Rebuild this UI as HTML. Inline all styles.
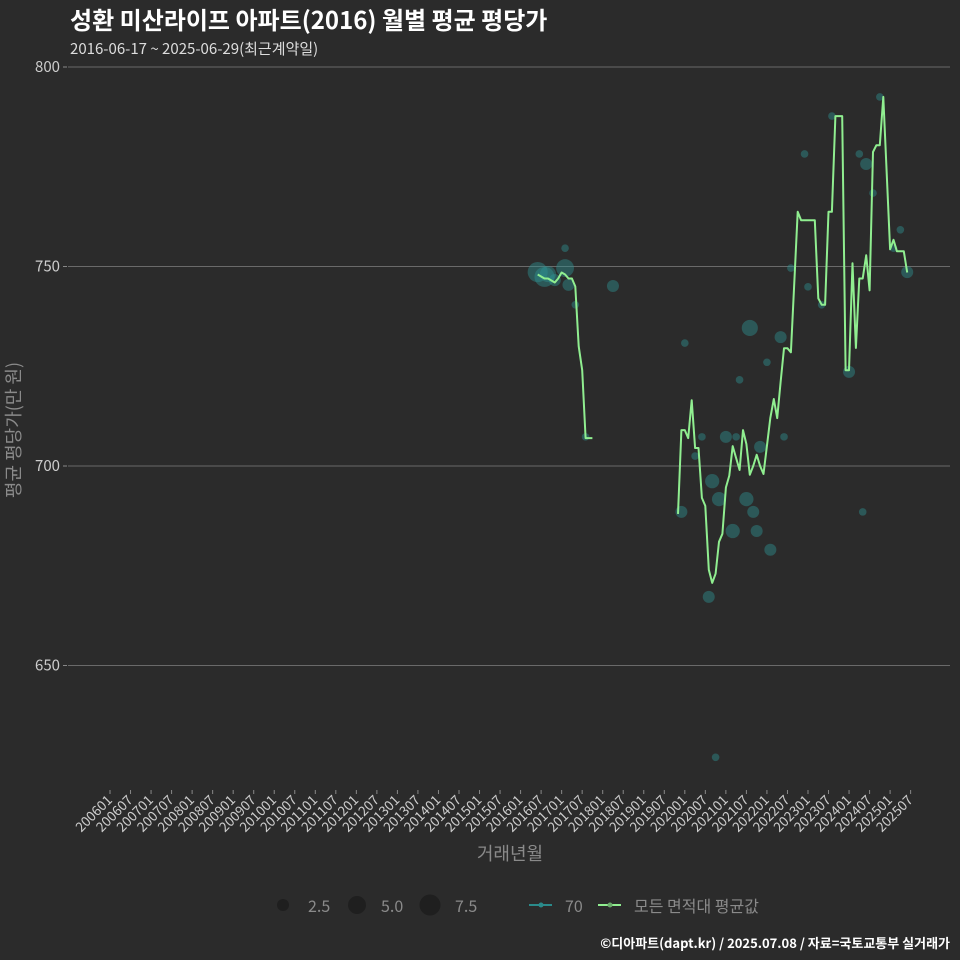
<!DOCTYPE html>
<html><head><meta charset="utf-8">
<style>
body{margin:0;background:#2b2b2b;}
svg{display:block;font-family:"Noto Sans CJK KR","Liberation Sans",sans-serif;}
</style></head>
<body>
<svg id="chart" width="960" height="960" viewBox="0 0 960 960">
<rect width="960" height="960" fill="#2b2b2b"/>
<text x="70" y="29" font-size="24" font-weight="bold" fill="#ffffff">성환 미산라이프 아파트(2016) 월별 평균 평당가</text>
<text x="70" y="54" font-size="15" fill="#dddddd">2016-06-17 ~ 2025-06-29(최근계약일)</text>
<g id="grid"></g>
<g id="xaxis"></g>
<g id="marks"></g>
<text x="510" y="860" font-size="18" fill="#8a8a8a" text-anchor="middle">거래년월</text>
<text transform="translate(20,430) rotate(-90)" font-size="18" fill="#8a8a8a" text-anchor="middle">평균 평당가(만 원)</text>
<g>
<circle cx="283" cy="905" r="6" fill="#1f1f1f"/>
<text x="308" y="912" font-size="16" fill="#8a8a8a">2.5</text>
<circle cx="357" cy="905" r="9" fill="#1f1f1f"/>
<text x="381" y="912" font-size="16" fill="#8a8a8a">5.0</text>
<circle cx="430" cy="905" r="10.5" fill="#1f1f1f"/>
<text x="455" y="912" font-size="16" fill="#8a8a8a">7.5</text>
<line x1="529" y1="905" x2="552" y2="905" stroke="#2a8a8a" stroke-width="2"/>
<circle cx="541" cy="905" r="2.5" fill="#2a8a8a"/>
<text x="565" y="912" font-size="16" fill="#8a8a8a">70</text>
<line x1="598" y1="905" x2="621" y2="905" stroke="#90ee90" stroke-width="2"/>
<circle cx="610" cy="905" r="2.5" fill="#6aaa6a"/>
<text x="634" y="912" font-size="16" fill="#8a8a8a">모든 면적대 평균값</text>
</g>
<text x="950" y="948" font-size="13" font-weight="bold" fill="#ffffff" text-anchor="end">©디아파트(dapt.kr) / 2025.07.08 / 자료=국토교통부 실거래가</text>
</svg>
<script>
const yTicks = [650, 700, 750, 800];
const lineMonths = ["2016-06","2016-07","2016-08","2016-09","2016-10","2016-11","2016-12","2017-01","2017-02","2017-03","2017-04","2017-05","2017-06","2017-07","2017-08","2017-09","2017-10",null,
"2019-11","2019-12","2020-01","2020-02","2020-03","2020-04","2020-05","2020-06","2020-07","2020-08","2020-09","2020-10","2020-11","2020-12","2021-01","2021-02","2021-03","2021-04","2021-05","2021-06","2021-07","2021-08","2021-09","2021-10","2021-11","2021-12","2022-01","2022-02","2022-03","2022-04","2022-05","2022-06","2022-07","2022-08","2022-09","2022-10","2022-11","2022-12","2023-01","2023-02","2023-03","2023-04","2023-05","2023-06","2023-07","2023-08","2023-09","2023-10","2023-11","2023-12","2024-01","2024-02","2024-03","2024-04","2024-05","2024-06","2024-07","2024-08","2024-09","2024-10","2024-11","2025-01","2025-02","2025-03","2025-04","2025-05","2025-06"];
const lineValues = [748,747.5,747,747,746.5,746,747,748.5,748,747,747,745,730,724,707,707,707,null,
688,709,709,707,716.5,704.5,704.5,692,690,674,670.7,673,681,683,694.6,697.6,705,702,699,709,705.5,697.8,700,702.8,700,698,705,712,716.8,712,721,729.5,729.5,728.5,746,763.7,761.6,761.6,761.6,761.6,761.6,742,740.4,740.4,763.7,763.7,787.7,787.7,787.7,724,724,750.8,729.6,747,747,752.8,744,778.7,780.4,780.4,792.5,754.3,756.7,753.8,753.8,753.8,748.5];
const ptMonths = ["2016-06","2016-08","2016-09","2016-11","2017-02","2017-03","2017-02","2017-05","2018-04","2017-08","2019-12","2020-06","2020-04","2021-01","2021-04","2021-11","2022-06","2020-09","2020-11","2021-07","2021-09","2021-03","2021-10","2022-02","2020-08","2021-05","2020-01","2021-08","2022-05","2020-10","2024-05","2022-12","2024-04","2024-06","2024-08","2022-08","2023-01","2024-01","2024-10","2023-08","2025-02","2025-04","2025-06","2023-05","2022-01"];
const ptValues = [748.6,747.4,748.1,746.6,749.6,745.4,754.6,740.4,745.1,707.3,688.5,707.3,702.5,707.3,707.3,704.8,707.3,696.2,691.7,691.7,688.5,683.7,683.7,679,667.2,721.6,730.8,734.6,732.3,627,688.5,778.2,778.2,775.7,768.4,749.6,744.9,723.6,792.5,787.7,754.6,759.2,748.6,740.4,726];
const ptSizes = [7,7,4.5,2.5,5.5,2.5,1,1,2.5,1,2.5,1,1,2.5,1,2.5,1,3.5,3.5,3.5,2.5,3.5,2.5,2.5,2.5,1,1,4.5,2.5,1,1,1,1,2.5,1,1,1,2.5,1,1,1,1,2.5,1,1];

const NS = "http://www.w3.org/2000/svg";
function monthIdx(s){const [y,m]=s.split("-").map(Number);return (y-2006)*12+(m-1);}
function xScale(s){return 110+3.4215*monthIdx(s);}
function yScale(v){return 67+(800-v)*3.99;}
function mk(tag,attrs,parent){const e=document.createElementNS(NS,tag);for(const k in attrs)e.setAttribute(k,attrs[k]);parent.appendChild(e);return e;}

const grid=document.getElementById("grid");
yTicks.forEach(v=>{
  const y=yScale(v);
  const gl=mk("line",{x1:68,x2:950,y1:y,y2:y,stroke:"#6a6a6a","stroke-width":1},grid);
  
  
  const tk=mk("line",{x1:63,x2:67,y1:y,y2:y,stroke:"#888","stroke-width":1},grid);
  
  
  const t=mk("text",{x:60,y:y+5,"font-size":15,fill:"#cccccc","text-anchor":"end"},grid);
  
  
  t.textContent=v;
});
const xaxis=document.getElementById("xaxis");
for(let y=2006;y<=2025;y++){for(const m of ["01","07"]){
  const s=y+"-"+m;const x=xScale(s);
  const tk=mk("line",{x1:x,x2:x,y1:790,y2:794,stroke:"#888","stroke-width":1},xaxis);
  
  
  const t=mk("text",{transform:`translate(${x+3},801) rotate(-45)`,"font-size":13.5,fill:"#cccccc","text-anchor":"end"},xaxis);
  
  
  t.textContent=y+m;
}}
const marks=document.getElementById("marks");
ptMonths.forEach((s,i)=>{
  const c=mk("circle",{cx:xScale(s),cy:yScale(ptValues[i]),r:3.8*Math.sqrt(ptSizes[i]),fill:"#2e9090","fill-opacity":0.45},marks);
  
  
});
let d="",pen=false;
lineMonths.forEach((s,i)=>{
  if(s===null||lineValues[i]===null){pen=false;return;}
  d+=(pen?"L":"M")+xScale(s).toFixed(1)+","+yScale(lineValues[i]).toFixed(1)+" ";pen=true;
});
const p=mk("path",{d:d,fill:"none",stroke:"#90ee90","stroke-width":2,"stroke-linejoin":"round"},marks);


</script>
</body></html>
